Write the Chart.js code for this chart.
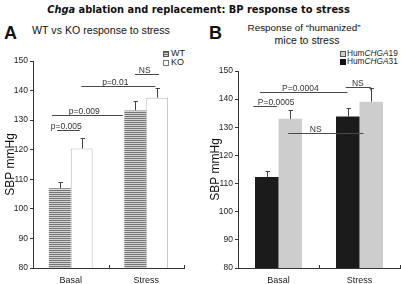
<!DOCTYPE html>
<html><head><meta charset="utf-8">
<script src="https://cdn.jsdelivr.net/npm/chart.js@4/dist/chart.umd.min.js"></script>
<style>
body{margin:0;width:401px;height:284px;position:relative;background:#fff;font-family:"Liberation Sans",Arial,sans-serif;overflow:hidden;color:#111}
.abs{position:absolute;white-space:nowrap;line-height:1}
canvas{position:absolute;top:0}
.sq{position:absolute;width:4px;height:4px}
.lg{position:absolute;font-size:9px;line-height:1;white-space:nowrap;color:#222}
</style></head><body>
<div id="title" class="abs" style="top:5px;font-family:'DejaVu Sans',Verdana,sans-serif;font-weight:bold;font-size:10px"><i>Chga</i> ablation and replacement: BP response to stress</div>
<div class="abs" style="left:4px;top:24px;font-weight:bold;font-size:18px;font-family:Arial,'Liberation Sans',sans-serif">A</div>
<div class="abs" style="left:209px;top:24px;font-weight:bold;font-size:18px;font-family:Arial,'Liberation Sans',sans-serif">B</div>
<div id="subA" class="abs" style="top:25px;font-size:10px">WT vs KO response to stress</div>
<div id="subB1" class="abs" style="top:23px;font-size:10px">Response of “humanized”</div>
<div id="subB2" class="abs" style="top:35px;font-size:10px">mice to stress</div>

<div class="sq" style="left:163px;top:51px;background:repeating-linear-gradient(#6e6e6e 0 1px,#cfcfcf 1px 2px);border:0.5px solid #555"></div>
<div class="lg" style="left:171px;top:49px">WT</div>
<div class="sq" style="left:163px;top:60px;background:#fff;border:0.5px solid #777"></div>
<div class="lg" style="left:171px;top:58px">KO</div>
<div class="sq" style="left:340px;top:51px;background:#cfcfcf;border:0.5px solid #555"></div>
<div class="lg" style="left:347px;top:49px;font-size:8.3px">Hum<i>CHGA</i>19</div>
<div class="sq" style="left:340px;top:59px;background:#111;border:0.5px solid #111"></div>
<div class="lg" style="left:347px;top:57px;font-size:8.3px">Hum<i>CHGA</i>31</div>

<canvas id="cA" width="200" height="284" style="left:0"></canvas>
<canvas id="cB" width="201" height="284" style="left:200px"></canvas>
<script>
// ---- data ----
const categories = ['Basal', 'Stress'];
const yTicks = [80, 90, 100, 110, 120, 130, 140, 150];
const wtValues = [107.0, 133.3];
const wtSem = [2.0, 3.2];
const koValues = [120.4, 137.6];
const koSem = [3.6, 3.2];
const hum31Values = [112.3, 133.8];
const hum31Sem = [2.3, 3.1];
const hum19Values = [133.0, 139.1];
const hum19Sem = [3.3, 4.7];
// significance brackets: x in category units, y in mmHg
const bracketLabelsA = ['p=0.005', 'p=0.009', 'p=0.01', 'NS'];
const bracketFromA = [-0.18, -0.25, 0.14, 0.85];
const bracketToA = [0.12, 0.69, 1.12, 1.17];
const bracketYA = [126.7, 131.7, 141.5, 145.6];
const bracketTextXA = [-0.06, 0.18, 0.59, 0.98];
const bracketLabelsB = ['P=0.0005', 'P=0.0004', 'NS', 'NS'];
const bracketFromB = [-0.31, -0.23, 0.83, 0.12];
const bracketToB = [-0.02, 0.85, 1.14, 1.05];
const bracketYB = [137.5, 142.5, 144.3, 127.9];
const bracketTextXB = [-0.03, 0.27, 0.98, 0.46];
const bracketDropB = [0, 0, 1, 0];

// ---- text fitting ----
function fit(id, width, center){
  const el = document.getElementById(id);
  const fs = parseFloat(el.style.fontSize);
  const w = el.getBoundingClientRect().width;
  el.style.fontSize = (fs * width / w) + 'px';
  const w2 = el.getBoundingClientRect().width;
  el.style.left = (center - w2 / 2) + 'px';
}
fit('title', 303, 198.5);
fit('subA', 138, 101);
fit('subB1', 113, 304);
fit('subB2', 65, 307);

const F = "'Liberation Sans', Arial, sans-serif";
function stripes(){
  const c = document.createElement('canvas'); c.width = 4; c.height = 2;
  const x = c.getContext('2d');
  x.fillStyle = '#d4d4d4'; x.fillRect(0, 0, 4, 2);
  x.fillStyle = '#767676'; x.fillRect(0, 0, 4, 1);
  return x.createPattern(c, 'repeat');
}

const errorBars = {
  id: 'errorBars',
  afterDatasetsDraw(chart){
    const ctx = chart.ctx, y = chart.scales.y;
    chart.data.datasets.forEach((ds, di) => {
      const meta = chart.getDatasetMeta(di);
      meta.data.forEach((bar, i) => {
        const top = Math.round(y.getPixelForValue(ds.data[i] + ds.sem[i])) + 0.5;
        const x = Math.round(bar.x) + 0.5;
        ctx.save(); ctx.strokeStyle = '#444'; ctx.lineWidth = 1;
        ctx.beginPath(); ctx.moveTo(x, bar.y); ctx.lineTo(x, top);
        ctx.moveTo(x - 2, top); ctx.lineTo(x + 2.5, top); ctx.stroke(); ctx.restore();
      });
    });
  }
};
const brackets = {
  id: 'brackets',
  afterDraw(chart, args, o){
    const ctx = chart.ctx, xs = chart.scales.x, ys = chart.scales.y;
    ctx.save();
    ctx.font = '8.5px ' + F; ctx.textAlign = 'center'; ctx.textBaseline = 'alphabetic';
    o.labels.forEach((lab, i) => {
      const x1 = xs.getPixelForValue(o.from[i]), x2 = xs.getPixelForValue(o.to[i]);
      const y = Math.round(ys.getPixelForValue(o.y[i])) + 0.5;
      ctx.strokeStyle = '#4a4a4a'; ctx.lineWidth = 1;
      ctx.beginPath(); ctx.moveTo(x1, y); ctx.lineTo(x2, y);
      if (o.drop && o.drop[i]) ctx.lineTo(x2, y + 3);
      ctx.stroke();
      ctx.fillStyle = '#333';
      ctx.fillText(lab, xs.getPixelForValue(o.tx[i]), y - 1.5);
    });
    ctx.restore();
  }
};
const xTicksUp = {
  id: 'xTicksUp',
  afterDraw(chart){
    const ctx = chart.ctx, xs = chart.scales.x, a = chart.chartArea;
    ctx.save(); ctx.strokeStyle = '#333'; ctx.lineWidth = 1;
    [0.5, 1.5].forEach(v => {
      const x = Math.round(xs.getPixelForValue(v)) + 0.5;
      ctx.beginPath(); ctx.moveTo(x, a.bottom); ctx.lineTo(x, a.bottom - 3); ctx.stroke();
    });
    ctx.restore();
  }
};

function makeChart(id, datasets, yWidth, titlePad, pad, br){
  return new Chart(document.getElementById(id), {
    type: 'bar',
    data: { labels: categories, datasets },
    options: {
      responsive: false, animation: false, devicePixelRatio: 1,
      layout: { padding: pad },
      plugins: { legend: { display: false }, tooltip: { enabled: false }, brackets: br },
      datasets: { bar: { categoryPercentage: 0.58, barPercentage: 1.0 } },
      scales: {
        x: {
          grid: { display: false, drawTicks: false },
          border: { color: '#333', width: 1 },
          ticks: { font: { size: 9, family: F }, color: '#222', padding: 7 },
          afterFit(s){ s.height = 16; }
        },
        y: {
          min: 80, max: 150,
          afterBuildTicks(s){ s.ticks = yTicks.map(v => ({ value: v })); },
          ticks: { font: { size: 8.5, family: F }, color: '#222', padding: 2 },
          grid: { drawOnChartArea: false, tickLength: 3, color: '#333' },
          border: { color: '#333', width: 1 },
          title: { display: true, text: 'SBP mmHg', font: { size: 12, family: F }, color: '#111', padding: { top: titlePad, bottom: 0 } },
          afterFit(s){ s.width = yWidth; }
        }
      }
    },
    plugins: [errorBars, brackets, xTicksUp]
  });
}

makeChart('cA', [
  { label: 'WT', data: wtValues, sem: wtSem, backgroundColor: stripes(), borderWidth: 0 },
  { label: 'KO', data: koValues, sem: koSem, backgroundColor: '#ffffff', borderColor: '#b8b8b8', borderWidth: 1 }
], 33, 3, { top: 61, right: 16, left: 0, bottom: 0 },
{ labels: bracketLabelsA, from: bracketFromA, to: bracketToA, y: bracketYA, tx: bracketTextXA });

makeChart('cB', [
  { label: 'HumCHGA31', data: hum31Values, sem: hum31Sem, backgroundColor: '#1b1b1b', borderWidth: 0 },
  { label: 'HumCHGA19', data: hum19Values, sem: hum19Sem, backgroundColor: '#cdcdcd', borderWidth: 0 }
], 38, 8, { top: 71, right: 1, left: 0, bottom: 0 },
{ labels: bracketLabelsB, from: bracketFromB, to: bracketToB, y: bracketYB, tx: bracketTextXB, drop: bracketDropB });
</script>
</body></html>
